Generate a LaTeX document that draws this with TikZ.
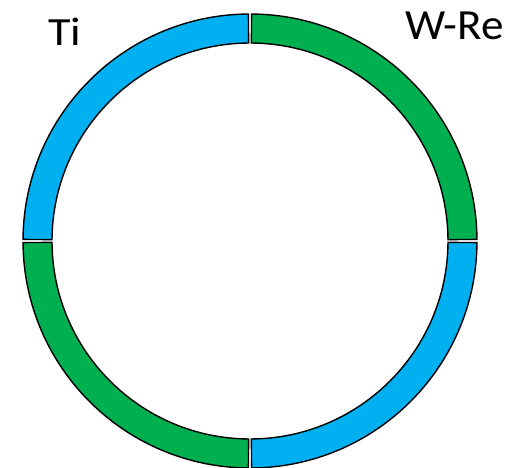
\documentclass[tikz,border=0pt]{standalone}
\usepackage{fontspec}
\setmainfont{Carlito}
\definecolor{ringblue}{HTML}{00B0F0}
\definecolor{ringgreen}{HTML}{00B050}
\tikzset{
  sector/.style={draw=black, line width=1.4pt, line join=miter},
  label/.style={inner sep=0pt, anchor=base west}
}
% annular sector: #1 fill colour, #2 start angle, #3 end angle
\newcommand{\ringpart}[3]{%
  \draw[sector, fill=#1] (#2:227) arc[start angle=#2, end angle=#3, radius=227]
    -- (#3:198) arc[start angle=#3, end angle=#2, radius=198] -- cycle;}
\begin{document}
\begin{tikzpicture}[x=1pt,y=1pt]
\useasboundingbox (0,0) rectangle (527,468);
\begin{scope}[shift={(250,227)}]
  \ringpart{ringgreen}{0.4}{89.6}
  \ringpart{ringblue}{90.4}{179.6}
  \ringpart{ringgreen}{180.4}{269.6}
  \ringpart{ringblue}{270.4}{359.6}
\end{scope}
\node[label, xscale=1.15, font=\fontsize{40}{46}\selectfont] (ti) at (48,422) {Ti};
\node[label, xscale=1.05, font=\fontsize{43}{50}\selectfont] (wre) at (405,428) {W-Re};
\end{tikzpicture}
\end{document}
